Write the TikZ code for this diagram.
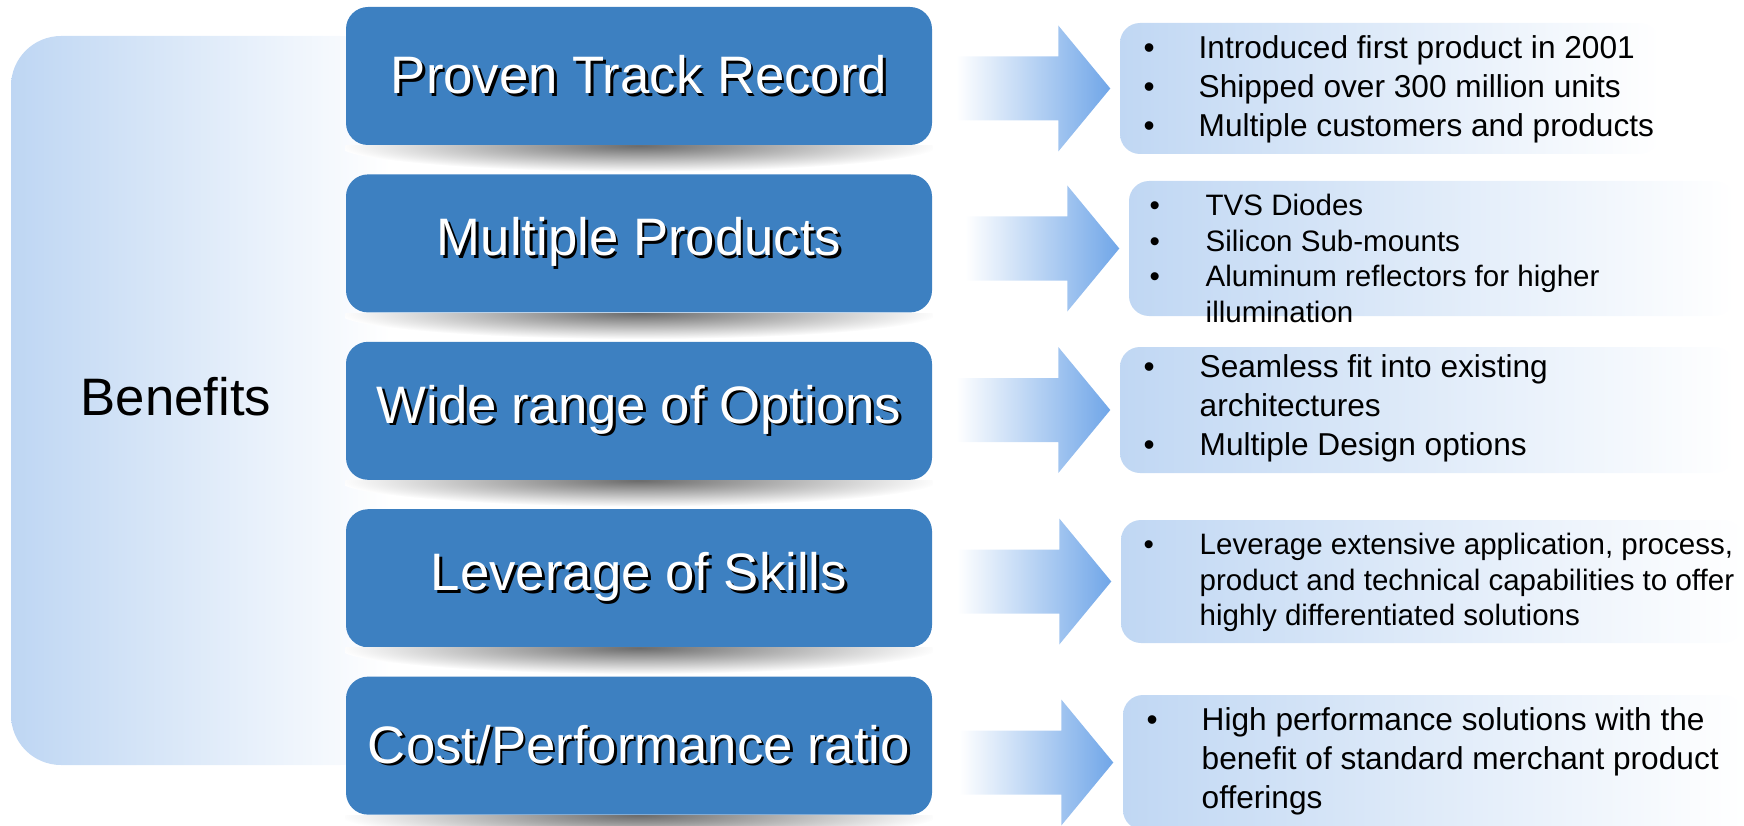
\documentclass[tikz,border=0pt]{standalone}
\usepackage{fontspec}
\setmainfont{Liberation Sans}
\usetikzlibrary{positioning,calc}

\definecolor{boxblue}{RGB}{61,128,193}
\definecolor{panelblue}{RGB}{190,214,243}
\definecolor{listblue}{RGB}{192,215,243}
\definecolor{arrowblue}{RGB}{112,166,232}

% white text with a small black drop shadow
\newcommand{\shadowtext}[1]{\makebox[0pt][l]{\kern0.28mm\raisebox{-0.28mm}{\color{black}#1}}{\color{white}#1}}

\begin{document}
\begin{tikzpicture}[node distance=0.28cm,  % gap between the blue boxes
    bluebox/.style={fill=boxblue, rounded corners=0.22cm, minimum width=5.86cm, minimum height=1.38cm, inner sep=0, font=\fontsize{15}{18}\selectfont},
    listbox/.style={left color=listblue, right color=white, rounded corners=0.2cm, inner sep=0},
    listtext/.style={anchor=west, inner sep=0, font=\fontsize{9}{11.1}\selectfont},
    smalltext/.style={listtext, font=\fontsize{8.4}{10.1}\selectfont},
    arrowfill/.style={left color=white, right color=arrowblue}]

    \useasboundingbox (0,0) rectangle (17.44,-8.26);

    % Draw the faded panel on the left
    \shade[left color=panelblue, right color=white, rounded corners=0.5cm]
        (0.11,-0.36) rectangle (3.9,-7.65);
    \node (benefits) at (1.76,-3.97) {\fontsize{15}{18}\selectfont Benefits};

    % Draw the blue boxes
    \node (box1) [bluebox] at (6.39,-0.76) {\shadowtext{Proven Track Record}};
    \node (box2) [bluebox, below=of box1] {\shadowtext{Multiple Products}};
    \node (box3) [bluebox, below=of box2] {\shadowtext{Wide range of Options}};
    \node (box4) [bluebox, below=of box3] {\shadowtext{Leverage of Skills}};
    \node (box5) [bluebox, below=of box4] {\shadowtext{Cost/Performance ratio}};

    % Draw the grey shadow under each box
    \foreach \n in {1,...,5} {
        \begin{scope}
            \clip (box\n.south west) rectangle ($(box\n.south east)+(0,-0.26)$);
            \shade[inner color=black!58, outer color=white] (box\n.south) ellipse (3.0cm and 0.26cm);
        \end{scope}
    }

    % Draw the faded boxes on the right
    \node (txt1) [listbox, minimum width=5.40cm, minimum height=1.31cm] at (13.90,-0.885) {};
    \node (txt2) [listbox, minimum width=6.06cm, minimum height=1.35cm] at (14.32,-2.485) {};
    \node (txt3) [listbox, minimum width=6.15cm, minimum height=1.26cm] at (14.275,-4.10) {};
    \node (txt4) [listbox, minimum width=6.23cm, minimum height=1.23cm] at (14.325,-5.815) {};
    \node (txt5) [listbox, minimum width=6.21cm, minimum height=1.35cm] at (14.335,-7.625) {};

    % Draw the block arrows pointing at the right boxes
    \foreach \n in {1,...,5} {
        \shade[arrowfill] ($(txt\n.west)+(-0.09,0)$) -- ++(-0.52,0.63) -- ++(0,-0.31) -- ++(-1.02,0)
            -- ++(0,-0.64) -- ++(1.02,0) -- ++(0,-0.31) -- cycle;
    }

    % Draw the bullet lists
    \node (list1) [listtext] at (11.43,-0.90) {\begin{tabular}{@{}p{0.55cm}@{}l@{}}
        \textbullet & Introduced first product in 2001\\
        \textbullet & Shipped over 300 million units\\
        \textbullet & Multiple customers and products
    \end{tabular}};
    \node (list2) [smalltext] at (11.49,-2.62) {\begin{tabular}{@{}p{0.56cm}@{}l@{}}
        \textbullet & TVS Diodes\\
        \textbullet & Silicon Sub-mounts\\
        \textbullet & Aluminum reflectors for higher\\
                    & illumination
    \end{tabular}};
    \node (list3) [listtext] at (11.43,-4.09) {\begin{tabular}{@{}p{0.56cm}@{}l@{}}
        \textbullet & Seamless fit into existing\\
                    & architectures\\
        \textbullet & Multiple Design options
    \end{tabular}};
    \node (list4) [smalltext] at (11.43,-5.83) {\begin{tabular}{@{}p{0.56cm}@{}l@{}}
        \textbullet & Leverage extensive application, process,\\
                    & product and technical capabilities to offer\\
                    & highly differentiated solutions
    \end{tabular}};
    \node (list5) [listtext] at (11.46,-7.62) {\begin{tabular}{@{}p{0.55cm}@{}l@{}}
        \textbullet & High performance solutions with the\\
                    & benefit of standard merchant product\\
                    & offerings
    \end{tabular}};
\end{tikzpicture}
\end{document}
